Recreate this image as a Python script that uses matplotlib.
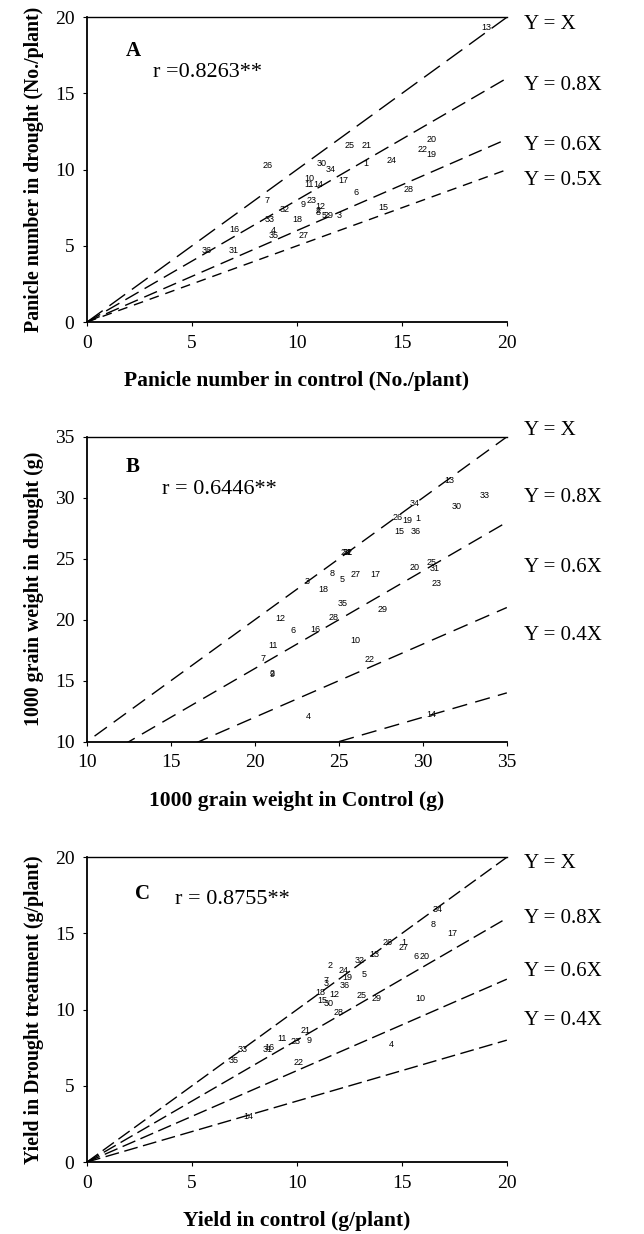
import numpy as np
import matplotlib
matplotlib.use("Agg")
import matplotlib.pyplot as plt

SERIF = ["Liberation Serif", "DejaVu Serif"]
SANS = ["Liberation Sans", "DejaVu Sans"]

# ---------------- Panel A: panicle number ----------------
a_labels = [str(i) for i in range(1, 37)]
a_control = [13.3, 11.0, 12.0, 8.9, 11.3, 12.8, 8.6, 11.0, 10.3, 10.6, 10.6, 11.1, 19.0, 11.0, 14.1, 7.0, 12.2, 10.0,
             16.4, 16.4, 13.3, 16.0, 10.7, 14.5, 12.5, 8.6, 10.3, 15.3, 11.5, 11.2, 7.0, 9.4, 8.7, 11.6, 8.9, 5.7]
a_drought = [10.4, 7.3, 7.0, 6.0, 7.0, 8.5, 8.0, 7.2, 7.7, 9.4, 9.0, 7.6, 19.3, 9.0, 7.5, 6.1, 9.3, 6.7,
             11.0, 12.0, 11.6, 11.3, 8.0, 10.6, 11.6, 10.3, 5.7, 8.7, 7.0, 10.4, 4.7, 7.4, 6.7, 10.0, 5.7, 4.7]
a_slopes = [1.0, 0.8, 0.6, 0.5]
a_slope_text = ["Y = X", "Y = 0.8X", "Y = 0.6X", "Y = 0.5X"]
a_text_y = [19.5, 15.5, 11.6, 9.3]

# ---------------- Panel B: 1000 grain weight ----------------
b_labels = [str(i) for i in range(1, 37)]
b_control = [29.7, 21.0, 23.1, 23.2, 25.2, 22.3, 20.5, 24.6, 21.0, 26.0, 21.1, 21.5, 31.6, 30.5, 28.6, 23.6, 27.2, 24.1,
             29.1, 29.5, 25.5, 26.8, 30.8, 25.4, 30.5, 28.5, 26.0, 24.7, 27.6, 32.0, 30.7, 25.5, 33.7, 29.5, 25.2, 29.6]
b_drought = [28.3, 15.6, 23.1, 12.1, 23.3, 19.1, 16.8, 23.8, 15.5, 18.3, 17.9, 20.1, 31.4, 12.2, 27.2, 19.2, 23.7, 22.5,
             28.1, 24.3, 25.5, 16.7, 23.0, 25.5, 24.7, 28.4, 23.7, 20.2, 20.8, 29.3, 24.2, 25.5, 30.2, 29.5, 21.3, 27.2]
b_slopes = [1.0, 0.8, 0.6, 0.4]
b_slope_text = ["Y = X", "Y = 0.8X", "Y = 0.6X", "Y = 0.4X"]
b_text_y = [35.5, 30.0, 24.3, 18.7]

# ---------------- Panel C: yield ----------------
c_labels = [str(i) for i in range(1, 37)]
c_control = [15.1, 11.6, 11.4, 14.5, 13.2, 15.7, 11.4, 16.5, 10.6, 15.9, 9.3, 11.8, 13.7, 7.7, 11.2, 8.7, 17.4, 11.1,
             12.4, 16.1, 10.4, 10.1, 9.95, 12.2, 13.1, 14.3, 15.1, 12.0, 13.8, 11.5, 8.6, 13.0, 7.4, 16.7, 7.0, 12.3]
c_drought = [14.4, 12.9, 11.7, 7.7, 12.3, 13.5, 11.9, 15.6, 8.0, 10.7, 8.1, 11.0, 13.6, 3.0, 10.6, 7.5, 15.0, 11.1,
             12.1, 13.5, 8.6, 6.5, 7.9, 12.6, 10.9, 14.4, 14.1, 9.8, 10.7, 10.4, 7.4, 13.2, 7.4, 16.6, 6.65, 11.6]
c_slopes = [1.0, 0.8, 0.6, 0.4]
c_slope_text = ["Y = X", "Y = 0.8X", "Y = 0.6X", "Y = 0.4X"]
c_text_y = [19.6, 16.0, 12.5, 9.3]

panels = [
    dict(letter="A", r="r =0.8263**", lab=a_labels, x=a_control, y=a_drought, slopes=a_slopes,
         stext=a_slope_text, sy=a_text_y, lim=(0, 20), ticks=[0, 5, 10, 15, 20],
         xlabel="Panicle number in control (No./plant)", ylabel="Panicle number in drought (No./plant)",
         rect=[0.135, 0.739, 0.652, 0.247], letter_xy=(0.11, 0.89), r_xy=(0.157, 0.82),
         dashes=[(14, 6), (11, 5), (10, 5), (7, 5)]),
    dict(letter="B", r="r = 0.6446**", lab=b_labels, x=b_control, y=b_drought, slopes=b_slopes,
         stext=b_slope_text, sy=b_text_y, lim=(10, 35), ticks=[10, 15, 20, 25, 30, 35],
         xlabel="1000 grain weight in Control (g)", ylabel="1000 grain weight in drought (g)",
         rect=[0.135, 0.399, 0.652, 0.247], letter_xy=(0.11, 0.90), r_xy=(0.178, 0.826),
         dashes=[(11, 6)] * 4),
    dict(letter="C", r="r = 0.8755**", lab=c_labels, x=c_control, y=c_drought, slopes=c_slopes,
         stext=c_slope_text, sy=c_text_y, lim=(0, 20), ticks=[0, 5, 10, 15, 20],
         xlabel="Yield in control (g/plant)", ylabel="Yield in Drought treatment (g/plant)",
         rect=[0.135, 0.0583, 0.652, 0.247], letter_xy=(0.133, 0.88), r_xy=(0.21, 0.86),
         dashes=[(10, 4)] * 4),
]

fig = plt.figure(figsize=(6.44, 12.34), dpi=100)
for p in panels:
    ax = fig.add_axes(p["rect"])
    lo, hi = p["lim"]
    xs = np.linspace(0, hi, 200)
    for k, s in enumerate(p["slopes"]):
        ax.plot(xs, s * xs, color="black", lw=1.0, linestyle=(0, p["dashes"][k]), zorder=1)
    for t, xv, yv in zip(p["lab"], p["x"], p["y"]):
        ax.text(xv, yv, t, fontsize=6.5, family=SANS, ha="center", va="center", zorder=3)
    ax.set_xlim(lo, hi)
    ax.set_ylim(lo, hi)
    ax.set_xticks(p["ticks"])
    ax.set_yticks(p["ticks"])
    for lab in ax.get_xticklabels() + ax.get_yticklabels():
        lab.set_fontfamily(SERIF)
        lab.set_fontsize(14)
    ax.tick_params(direction="out", length=3, width=0.8, pad=6)
    ax.set_xlabel(p["xlabel"], family=SERIF, fontsize=15.5, fontweight="bold", labelpad=14)
    ax.set_ylabel(p["ylabel"], family=SERIF, fontsize=14.3, fontweight="bold", labelpad=8)
    for side in ["left", "bottom"]:
        ax.spines[side].set_linewidth(1.3)
    ax.spines["top"].set_linewidth(1.0)
    ax.spines["right"].set_visible(False)
    ax.text(p["letter_xy"][0], p["letter_xy"][1], p["letter"], transform=ax.transAxes, family=SERIF,
            fontsize=15, fontweight="bold", ha="center", va="center")
    ax.text(p["r_xy"][0], p["r_xy"][1], p["r"], transform=ax.transAxes, family=SERIF, fontsize=16,
            ha="left", va="center")
    for t, yv in zip(p["stext"], p["sy"]):
        ax.text(1.04, yv, t, transform=ax.get_yaxis_transform(), family=SERIF, fontsize=15,
                ha="left", va="center", clip_on=False)

fig.savefig("out.png", dpi=100)
